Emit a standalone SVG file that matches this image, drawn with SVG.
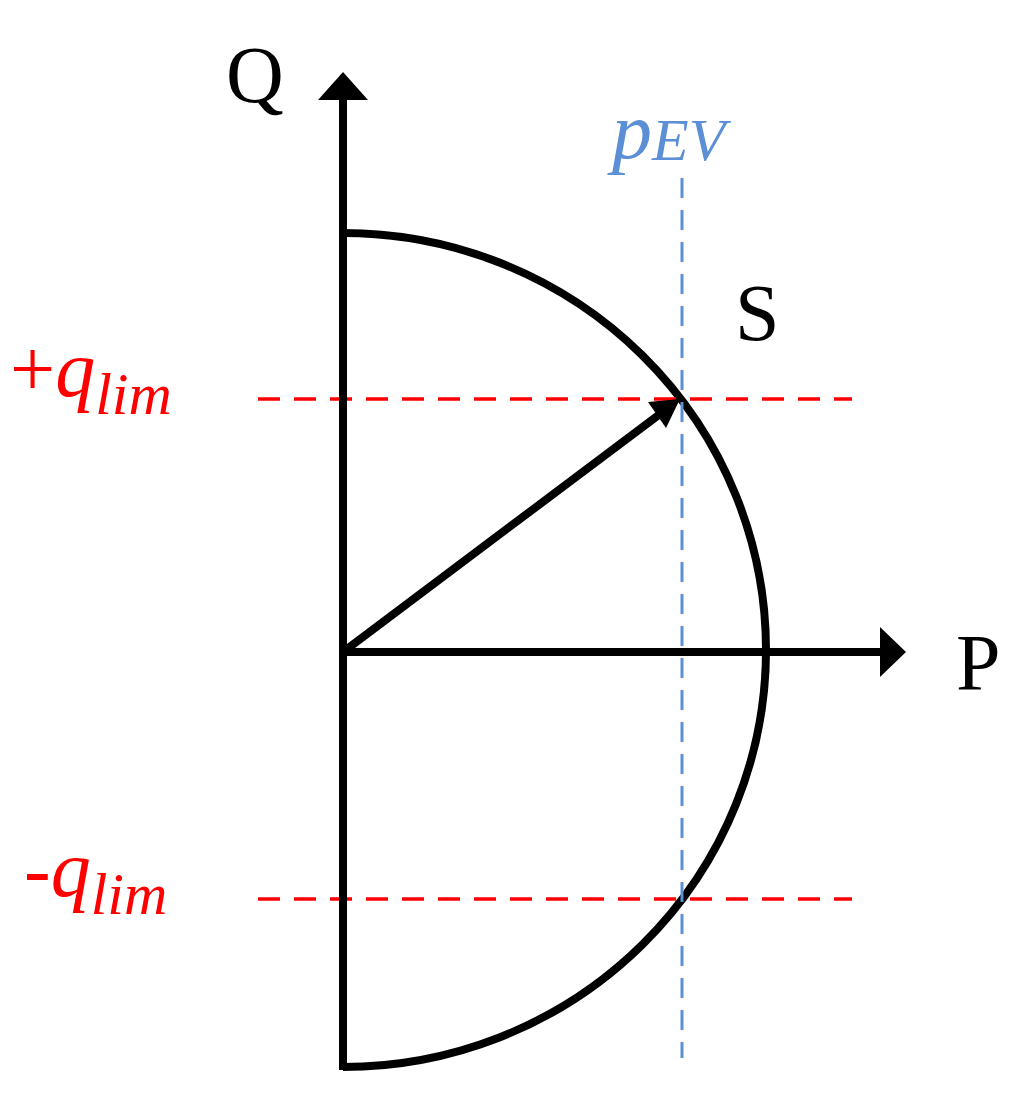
<svg xmlns="http://www.w3.org/2000/svg" width="1024" height="1096" viewBox="0 0 1024 1096">
<style>
.ax{stroke:#000;stroke-width:8;fill:none}
.rd{stroke:#f00;stroke-width:3.5;stroke-dasharray:22,14;fill:none}
.bl{stroke:#5b8fd6;stroke-width:3;stroke-dasharray:20,12;fill:none}
text{font-family:"Liberation Serif",serif;font-size:80px}
</style>
<g id="curve"><path class="ax" d="M343,233 A423,417 0 0 1 343,1067"/></g>
<g id="guides">
<line class="rd" x1="258" y1="399" x2="852" y2="399"/>
<line class="rd" x1="258" y1="899" x2="852" y2="899"/>
<line class="bl" x1="682" y1="178" x2="682" y2="1058"/>
</g>
<g id="connectors">
<line class="ax" x1="343" y1="1070" x2="343" y2="95"/>
<polygon points="343,72 318,100 368,100"/>
<line class="ax" x1="339" y1="652" x2="882" y2="652"/>
<polygon points="906,652 880,627 880,677"/>
<line class="ax" x1="343" y1="652" x2="660" y2="414"/>
<polygon points="680,399 648,402 666,428"/>
</g>
<g id="labels">
<text x="226" y="102">Q</text>
<text x="956" y="690">P</text>
<text x="735" y="340">S</text>
<text x="612" y="158" fill="#5b8fd6" font-style="italic" font-size="86">p<tspan font-size="60" dy="2">EV</tspan></text>
<text x="10" y="396" fill="#f00" font-size="86">+<tspan font-style="italic">q</tspan><tspan font-style="italic" font-size="60" dy="18">lim</tspan></text>
<text x="24" y="896" fill="#f00" font-size="86">-<tspan font-style="italic">q</tspan><tspan font-style="italic" font-size="60" dy="18">lim</tspan></text>
</g>
</svg>
